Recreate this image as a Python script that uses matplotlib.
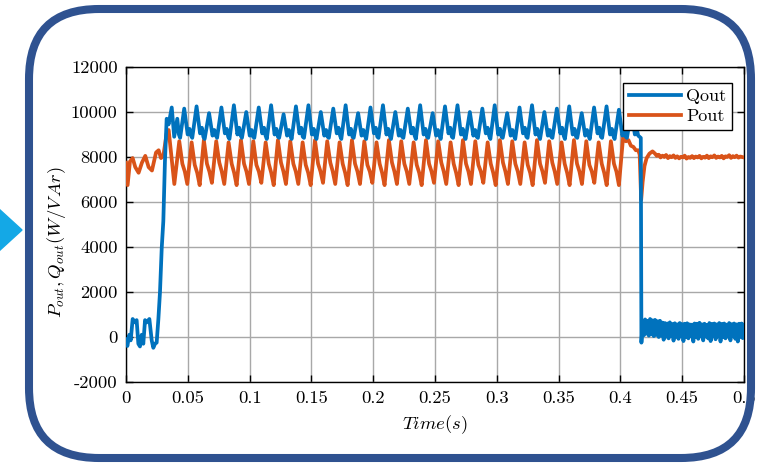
import numpy as np
import matplotlib.pyplot as plt
from matplotlib.patches import FancyBboxPatch, Polygon
from matplotlib.transforms import IdentityTransform

plt.rcParams['mathtext.fontset'] = 'cm'
plt.rcParams['font.family'] = 'cmr10'
plt.rcParams['axes.unicode_minus'] = False

# ---- data (time in ms, power in W / VAr) ----
# Qout: start-up wiggle and ramp
q_start_t = [0, 1.1, 2.7, 3.8, 5.4, 7.3, 8.6, 10.0, 11.3, 12.7, 14.0, 15.4, 16.7,
             18.9, 20.8, 22.1, 23.5, 24.8, 26.2, 27.5, 28.9, 30.2, 31.5, 32.9, 34.5,
             37.0, 39.0, 41.5, 42.8, 43.8]
q_start_v = [-100, -400, 100, -150, 800, 650, 750, -300, -420, 100, -300, 750, 650,
             800, -150, -480, -300, -250, 800, 2000, 3950, 5150, 7800, 9700, 9450,
             10200, 8900, 9700, 9000, 8850]

# Qout: 100 Hz ripple, five points per cycle (peak, fall, bump, dip, trough)
q_osc_t = [
    47.1, 49.9, 51.4, 52.6, 53.6,
    57.1, 59.9, 61.4, 62.6, 63.6,
    67.2, 70.0, 71.5, 72.7, 73.7,
    77.2, 80.0, 81.5, 82.7, 83.7,
    87.3, 90.1, 91.6, 92.8, 93.8,
    97.3, 100.1, 101.6, 102.8, 103.8,
    107.4, 110.2, 111.7, 112.9, 113.9,
    117.4, 120.2, 121.7, 122.9, 123.9,
    127.5, 130.3, 131.8, 133.0, 134.0,
    137.5, 140.3, 141.8, 143.0, 144.0,
    147.6, 150.4, 151.9, 153.1, 154.1,
    157.6, 160.4, 161.9, 163.1, 164.1,
    167.7, 170.5, 172.0, 173.2, 174.2,
    177.7, 180.5, 182.0, 183.2, 184.2,
    187.8, 190.6, 192.1, 193.3, 194.3,
    197.8, 200.6, 202.1, 203.3, 204.3,
    207.9, 210.7, 212.2, 213.4, 214.4,
    217.9, 220.7, 222.2, 223.4, 224.4,
    228.0, 230.8, 232.3, 233.5, 234.5,
    238.0, 240.8, 242.3, 243.5, 244.5,
    248.1, 250.9, 252.4, 253.6, 254.6,
    258.1, 260.9, 262.4, 263.6, 264.6,
    268.2, 271.0, 272.5, 273.7, 274.7,
    278.2, 281.0, 282.5, 283.7, 284.7,
    288.3, 291.1, 292.6, 293.8, 294.8,
    298.3, 301.1, 302.6, 303.8, 304.8,
    308.4, 311.2, 312.7, 313.9, 314.9,
    318.4, 321.2, 322.7, 323.9, 324.9,
    328.5, 331.3, 332.8, 334.0, 335.0,
    338.5, 341.3, 342.8, 344.0, 345.0,
    348.6, 351.4, 352.9, 354.1, 355.1,
    358.6, 361.4, 362.9, 364.1, 365.1,
    368.7, 371.5, 373.0, 374.2, 375.2,
    378.7, 381.5, 383.0, 384.2, 385.2,
    388.8, 391.6, 393.1, 394.3, 395.3,
    398.8, 401.6, 403.1, 404.3, 405.3,
    408.9, 411.7, 413.2, 414.4, 416.5,
]
q_osc_v = [
    10150, 9000, 9250, 8950, 8850,
    10250, 9050, 9300, 8900, 8800,
    9950, 8950, 9200, 8950, 8850,
    10200, 9050, 9250, 8900, 8800,
    10300, 9000, 9300, 8950, 8850,
    10000, 8950, 9200, 8900, 8850,
    10200, 9050, 9300, 8950, 8800,
    10300, 9000, 9250, 8900, 8850,
    9900, 8950, 9200, 8950, 8800,
    10250, 9050, 9300, 8900, 8850,
    10300, 9000, 9250, 8950, 8800,
    10000, 8950, 9200, 8900, 8850,
    10150, 9050, 9300, 8950, 8800,
    10300, 9000, 9250, 8900, 8850,
    9950, 8950, 9200, 8950, 8800,
    10200, 9050, 9300, 8900, 8850,
    10300, 9000, 9250, 8950, 8800,
    10000, 8950, 9200, 8900, 8850,
    10150, 9050, 9300, 8950, 8800,
    10300, 9000, 9250, 8900, 8850,
    9950, 8950, 9200, 8950, 8800,
    10250, 9050, 9300, 8900, 8850,
    10300, 9000, 9250, 8950, 8800,
    10000, 8950, 9200, 8900, 8850,
    10150, 9050, 9300, 8950, 8800,
    10300, 9000, 9250, 8900, 8850,
    9950, 8950, 9200, 8950, 8800,
    10200, 9050, 9300, 8900, 8850,
    10300, 9000, 9250, 8950, 8800,
    10000, 8950, 9200, 8900, 8850,
    10150, 9050, 9300, 8950, 8800,
    10250, 9000, 9250, 8900, 8850,
    9950, 8950, 9200, 8950, 8800,
    10200, 9050, 9300, 8900, 8850,
    10250, 9000, 9250, 8950, 8800,
    10100, 8950, 9200, 8900, 8850,
    10050, 9000, 9250, 8950, 8850,
]

# Qout after the step down: samples every 1 ms from 417 ms
q_tail_t0, q_tail_dt = 417.0, 1.0
q_tail_v = [
    -250, 650, 80, 780, 150, 720, 60, 800, 120, 740,
    40, 760, 100, 700, 0, 720, 60, 640, -120, 620,
    20, 600, -60, 650, 40, 580, -160, 610, 20, 560,
    -80, 620, 50, 570, -180, 590, 10, 610, -60, 560,
    40, 550, -200, 600, 0, 590, -80, 630, 30, 560,
    -150, 590, 20, 540, -60, 620, -180, 580, 40, 600,
    -100, 560, 30, 620, -200, 580, 0, 600, -60, 550,
    20, 620, -150, 570, 30, 600, -80, 560, -200, 590,
    0, 600, -50, 550,
]

# Pout: start-up
p_start_t = [0, 1.3, 3.2, 5.4, 7.5, 10.2, 12.9, 15.6, 18.3, 21.0, 24.3, 26.4,
             28.3, 30.2, 32.9, 34.5, 37.0, 39.1]
p_start_v = [7750, 6750, 7800, 7950, 7550, 7300, 7750, 8050, 7550, 7400, 8200, 8300,
             7950, 8050, 9050, 9200, 7900, 6800]

# Pout: ripple, four points per cycle (peak, fall, shoulder, trough)
p_osc_t = [
    43.1, 45.6, 47.6, 49.6,
    53.1, 55.6, 57.6, 59.6,
    63.0, 65.5, 67.5, 69.5,
    73.0, 75.5, 77.5, 79.5,
    83.0, 85.5, 87.5, 89.5,
    93.0, 95.5, 97.5, 99.5,
    103.0, 105.5, 107.5, 109.5,
    113.0, 115.5, 117.5, 119.5,
    122.9, 125.4, 127.4, 129.4,
    132.9, 135.4, 137.4, 139.4,
    142.9, 145.4, 147.4, 149.4,
    152.9, 155.4, 157.4, 159.4,
    162.8, 165.3, 167.3, 169.3,
    172.8, 175.3, 177.3, 179.3,
    182.8, 185.3, 187.3, 189.3,
    192.8, 195.3, 197.3, 199.3,
    202.7, 205.2, 207.2, 209.2,
    212.7, 215.2, 217.2, 219.2,
    222.7, 225.2, 227.2, 229.2,
    232.7, 235.2, 237.2, 239.2,
    242.7, 245.2, 247.2, 249.2,
    252.6, 255.1, 257.1, 259.1,
    262.6, 265.1, 267.1, 269.1,
    272.6, 275.1, 277.1, 279.1,
    282.6, 285.1, 287.1, 289.1,
    292.6, 295.1, 297.1, 299.1,
    302.5, 305.0, 307.0, 309.0,
    312.5, 315.0, 317.0, 319.0,
    322.5, 325.0, 327.0, 329.0,
    332.5, 335.0, 337.0, 339.0,
    342.4, 344.9, 346.9, 348.9,
    352.4, 354.9, 356.9, 358.9,
    362.4, 364.9, 366.9, 368.9,
    372.4, 374.9, 376.9, 378.9,
    382.4, 384.9, 386.9, 388.9,
    392.3, 394.8, 396.8, 398.8,
]
p_osc_v = [
    8700, 7700, 7350, 6800,
    8650, 7650, 7300, 6750,
    8750, 7700, 7350, 6850,
    8700, 7750, 7350, 6800,
    8650, 7700, 7300, 6750,
    8750, 7700, 7350, 6800,
    8700, 7650, 7350, 6850,
    8650, 7700, 7300, 6750,
    8750, 7750, 7350, 6800,
    8700, 7700, 7350, 6800,
    8650, 7650, 7300, 6750,
    8750, 7700, 7350, 6850,
    8700, 7750, 7350, 6800,
    8650, 7700, 7300, 6750,
    8750, 7700, 7350, 6800,
    8700, 7650, 7350, 6850,
    8650, 7700, 7300, 6750,
    8750, 7750, 7350, 6800,
    8700, 7700, 7350, 6800,
    8650, 7650, 7300, 6750,
    8750, 7700, 7350, 6850,
    8700, 7750, 7350, 6800,
    8650, 7700, 7300, 6750,
    8750, 7700, 7350, 6800,
    8700, 7650, 7350, 6850,
    8650, 7700, 7300, 6750,
    8750, 7750, 7350, 6800,
    8700, 7700, 7350, 6800,
    8650, 7650, 7300, 6750,
    8750, 7700, 7350, 6850,
    8700, 7750, 7350, 6800,
    8650, 7700, 7300, 6750,
    8750, 7700, 7350, 6800,
    8700, 7650, 7350, 6850,
    8650, 7700, 7300, 6750,
    8700, 7700, 7350, 6750,
]

# Pout: transient around the step
p_step_t = [402.3, 404.5, 406.5, 408.5, 410.5, 412.5, 414.5, 415.6, 416.8,
            418.0, 419.5, 421.2, 423.5, 426.0]
p_step_v = [8950, 8700, 8750, 8500, 8450, 8300, 8300, 8100, 6100,
            6900, 7600, 7950, 8150, 8250]

# Pout: settled, samples every 1.5 ms from 428 ms
p_tail_t0, p_tail_dt = 428.0, 1.5
p_tail_v = [
    8150, 8050, 8100, 7980, 8060, 8000, 8090, 7950, 8040, 7990,
    8070, 7960, 8030, 7940, 8010, 7980, 8060, 7930, 8000, 7960,
    8040, 7950, 8020, 7980, 8050, 7940, 8010, 7970, 8060, 7950,
    8030, 7990, 8070, 7960, 8020, 7980, 8050, 7940, 8030, 8000,
    8080, 7960, 8040, 7990, 8060, 7970, 8020, 8000, 7980,
]

x_ticks = [0, 0.05, 0.1, 0.15, 0.2, 0.25, 0.3, 0.35, 0.4, 0.45, 0.5]
x_labels = ['0', '0.05', '0.1', '0.15', '0.2', '0.25', '0.3', '0.35', '0.4', '0.45', '0.5']
y_ticks = [-2000, 0, 2000, 4000, 6000, 8000, 10000, 12000]
y_labels = ['-2000', '0', '2000', '4000', '6000', '8000', '10000', '12000']

# ---- assemble series ----
q_tail_t = q_tail_t0 + q_tail_dt * np.arange(len(q_tail_v))
p_tail_t = p_tail_t0 + p_tail_dt * np.arange(len(p_tail_v))
q_t = np.concatenate([q_start_t, q_osc_t, q_tail_t]) / 1000
q_v = np.concatenate([q_start_v, q_osc_v, q_tail_v])
p_t = np.concatenate([p_start_t, p_osc_t, p_step_t, p_tail_t]) / 1000
p_v = np.concatenate([p_start_v, p_osc_v, p_step_v, p_tail_v])

fig = plt.figure(figsize=(7.58, 4.63), dpi=100)
ax = fig.add_axes([126 / 758, 1 - 382 / 463, 618 / 758, 315 / 463])

lp, = ax.plot(p_t, p_v, color='#D95319', lw=2.7, zorder=3)
lq, = ax.plot(q_t, q_v, color='#0072BD', lw=2.7, zorder=4)

ax.set_xlim(0, 0.5)
ax.set_ylim(-2000, 12000)
ax.set_xticks(x_ticks)
ax.set_xticklabels(x_labels)
ax.set_yticks(y_ticks)
ax.set_yticklabels(y_labels)
ax.tick_params(direction='in', length=5, width=1, top=True, right=True,
               labelsize=13.4, pad=6, colors='black')
ax.grid(True, color='#a8a8a8', lw=1.0)
ax.set_axisbelow(True)
for s in ax.spines.values():
    s.set_linewidth(1.0)
    s.set_color('black')

ax.set_xlabel(r'$Time(s)$', fontsize=13.4)
ax.xaxis.set_label_coords(0.5, -0.098)
ax.xaxis.label.set_va('top')
ax.set_ylabel(r'$P_{out}, Q_{out}(W/V\,Ar)$', fontsize=13.4)
ax.yaxis.set_label_coords(-0.094, 0.445)

leg = ax.legend([lq, lp], ['Qout', 'Pout'], loc='upper right',
                bbox_to_anchor=(0.9806, 0.949), borderaxespad=0, fontsize=13,
                fancybox=False, framealpha=1, edgecolor='black',
                handlelength=2.9, handletextpad=0.3, borderpad=0.3,
                labelspacing=0.25)
leg.get_frame().set_linewidth(1.0)
leg.set_zorder(10)

# rounded frame and pointer triangle, in pixel coordinates
frame = FancyBboxPatch((29, 5), 722, 449, boxstyle='round,pad=0,rounding_size=70',
                       transform=IdentityTransform(), fill=False,
                       edgecolor='#2f5290', lw=5.8, zorder=20)
fig.add_artist(frame)
tri = Polygon([(-1, 254), (-1, 212), (22, 233)], closed=True,
              transform=IdentityTransform(), color='#14a8e6', zorder=20)
fig.add_artist(tri)

fig.savefig('out.png', dpi=100)
